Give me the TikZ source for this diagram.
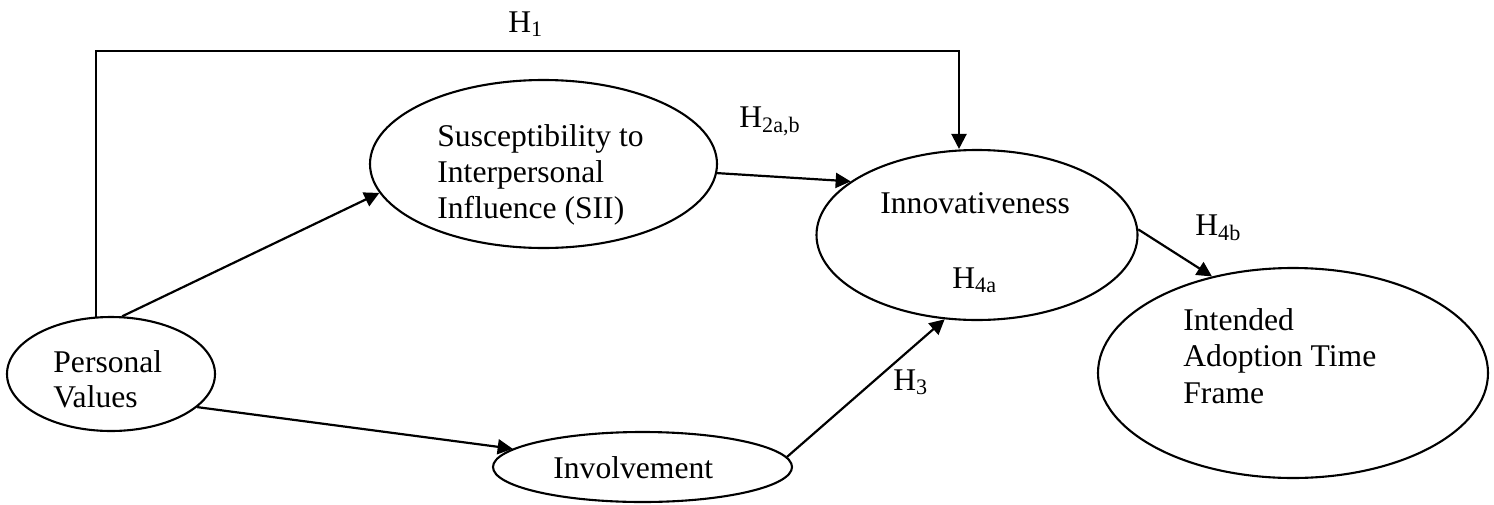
\documentclass[tikz,border=0pt]{standalone}
\usepackage{fontspec}
\setmainfont{Liberation Serif}
\usetikzlibrary{arrows.meta,shapes.geometric}
\begin{document}
\begin{tikzpicture}[x=0.5pt,y=-0.5pt,
  ell/.style={draw, line width=1.05pt, ellipse, inner sep=0pt},
  lbl/.style={inner sep=0pt, anchor=base west, align=left,
    font=\fontsize{15.8}{18}\selectfont},
  arr/.style={line width=1.1pt, -{Triangle[length=7.5pt,width=7.5pt]}}]
\useasboundingbox (0,0) rectangle (1494,504);
% ellipses
\node[ell, minimum width=104pt, minimum height=57pt] (pv) at (111,374) {};
\node[ell, minimum width=173.5pt, minimum height=84pt] (sii) at (543.5,164) {};
\node[ell, minimum width=160.5pt, minimum height=85pt] (innov) at (977,235) {};
\node[ell, minimum width=195pt, minimum height=105pt] (iatf) at (1293,373) {};
\node[ell, minimum width=149.5pt, minimum height=35pt] (inv) at (642.5,467) {};
% texts (anchored at the baseline of the last line)
\node[lbl, font=\fontsize{15.8}{17.5}\selectfont] (tpv) at (53,407) {Personal\\Values};
\node[lbl] (tsii) at (437,218) {Susceptibility to\\Interpersonal\\Influence (SII)};
\node[lbl] (tinnov) at (880,213) {Innovativeness};
\node[lbl, font=\fontsize{15.8}{18.25}\selectfont] (tiatf) at (1183,403) {Intended\\Adoption Time\\Frame};
\node[lbl] (tinv) at (553,478) {Involvement};
% hypothesis labels
\node[lbl] (h1) at (508,32) {H\textsubscript{1}};
\node[lbl] (h2) at (739,127) {H\textsubscript{2a,b}};
\node[lbl] (h3) at (893,390) {H\textsubscript{3}};
\node[lbl] (h4a) at (952,288) {H\textsubscript{4a}};
\node[lbl] (h4b) at (1195,235) {H\textsubscript{4b}};
% connectors
\coordinate (h1c) at (959,51);
\draw[arr] (pv.105.9) |- (h1c) -- (h1c |- innov.north);
\draw[arr] (pv.79) -- (sii.190);
\draw[arr] (sii.-3.6) -- (innov.157.8);
\draw[arr] (pv.-21.7) -- (inv.172);
\draw[arr] (inv.4.6) -- (innov.249);
\draw[arr] (innov.2) -- (iatf.130);
\end{tikzpicture}
\end{document}
